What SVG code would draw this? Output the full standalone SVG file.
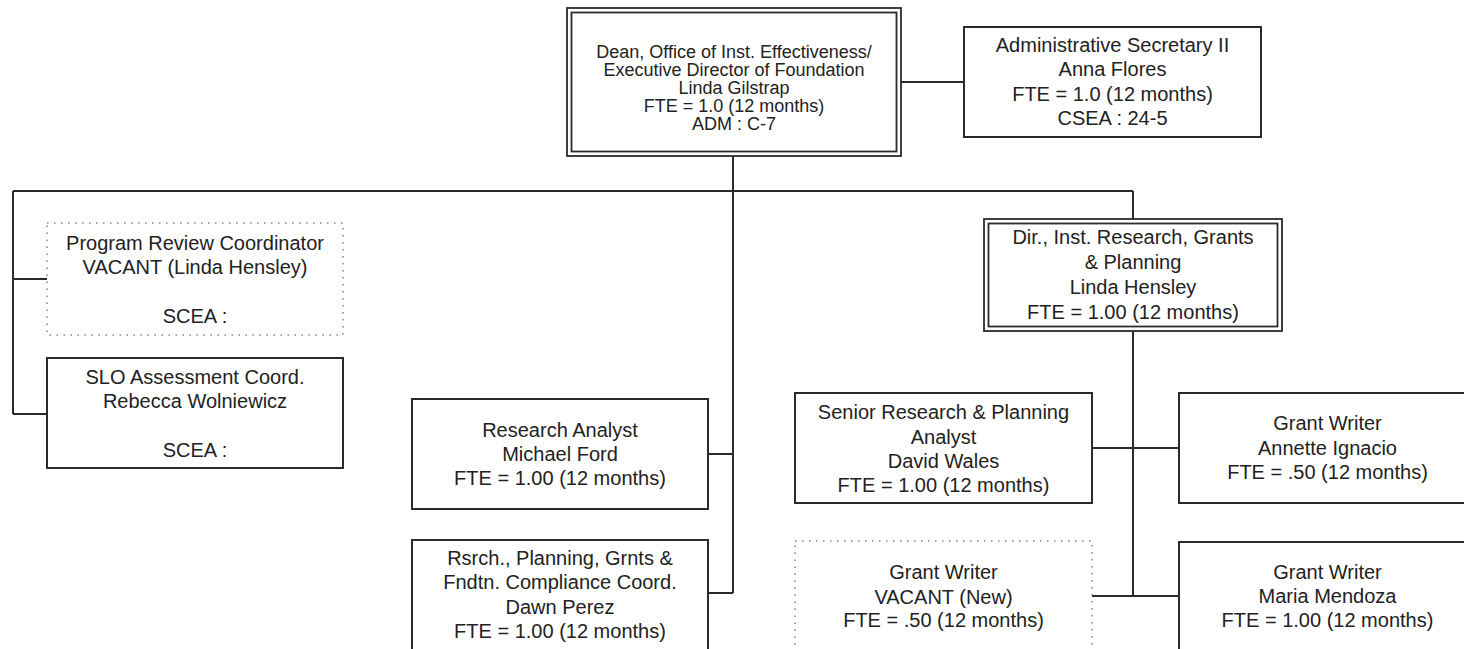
<svg xmlns="http://www.w3.org/2000/svg" width="1464" height="649" viewBox="0 0 1464 649">
<style>
.bg{fill:#ffffff}
.box{fill:none;stroke:#2b2b2b;stroke-width:2}
.dbl{fill:none;stroke:#2b2b2b;stroke-width:1.8}
.dot{fill:none;stroke:#8a8a8a;stroke-width:1.6;stroke-dasharray:1.5 5.5}
.ln{fill:none;stroke:#2b2b2b;stroke-width:2}
text{font-family:"Liberation Sans",Arial,sans-serif;font-size:20px;fill:#222;text-anchor:middle}
.sm{font-size:18px}
</style>
<rect class="bg" x="0" y="0" width="1464" height="649"/>
<g id="connectors">
<path class="ln" d="M901,82H964"/>
<path class="ln" d="M733,156V593"/>
<path class="ln" d="M13,191H1133"/>
<path class="ln" d="M13,191V414"/>
<path class="ln" d="M13,279H47"/>
<path class="ln" d="M13,414H47"/>
<path class="ln" d="M708,454H733"/>
<path class="ln" d="M708,593H733"/>
<path class="ln" d="M1133,191V219"/>
<path class="ln" d="M1133,331V596"/>
<path class="ln" d="M1092,448H1179"/>
<path class="ln" d="M1092,596H1179"/>
</g>
<g id="dean">
<rect class="dbl" x="567" y="8" width="334" height="148"/>
<rect class="dbl" x="571.5" y="12.5" width="325" height="139"/>
<text class="sm" x="734" y="58">Dean, Office of Inst. Effectiveness/</text>
<text class="sm" x="734" y="76">Executive Director of Foundation</text>
<text class="sm" x="734" y="94">Linda Gilstrap</text>
<text class="sm" x="734" y="112">FTE = 1.0 (12 months)</text>
<text class="sm" x="734" y="130">ADM : C-7</text>
</g>
<g id="admin">
<rect class="box" x="964" y="27" width="297" height="110"/>
<text x="1112.5" y="52">Administrative Secretary II</text>
<text x="1112.5" y="76">Anna Flores</text>
<text x="1112.5" y="101">FTE = 1.0 (12 months)</text>
<text x="1112.5" y="125">CSEA : 24-5</text>
</g>
<g id="program-review">
<rect class="dot" x="47" y="223" width="296" height="112"/>
<text x="195" y="250">Program Review Coordinator</text>
<text x="195" y="274">VACANT (Linda Hensley)</text>
<text x="195" y="323">SCEA :</text>
</g>
<g id="slo">
<rect class="box" x="47" y="358" width="296" height="110"/>
<text x="195" y="384">SLO Assessment Coord.</text>
<text x="195" y="408">Rebecca Wolniewicz</text>
<text x="195" y="457">SCEA :</text>
</g>
<g id="research-analyst">
<rect class="box" x="412" y="399" width="296" height="110"/>
<text x="560" y="437">Research Analyst</text>
<text x="560" y="461">Michael Ford</text>
<text x="560" y="485">FTE = 1.00 (12 months)</text>
</g>
<g id="compliance">
<rect class="box" x="412" y="540" width="296" height="110"/>
<text x="560" y="565">Rsrch., Planning, Grnts &amp;</text>
<text x="560" y="589">Fndtn. Compliance Coord.</text>
<text x="560" y="614">Dawn Perez</text>
<text x="560" y="638">FTE = 1.00 (12 months)</text>
</g>
<g id="director">
<rect class="dbl" x="984" y="219" width="298" height="112"/>
<rect class="dbl" x="988.5" y="223.5" width="289" height="103"/>
<text x="1133" y="244">Dir., Inst. Research, Grants</text>
<text x="1133" y="269">&amp; Planning</text>
<text x="1133" y="294">Linda Hensley</text>
<text x="1133" y="319">FTE = 1.00 (12 months)</text>
</g>
<g id="senior-analyst">
<rect class="box" x="795" y="393" width="297" height="110"/>
<text x="943.5" y="419">Senior Research &amp; Planning</text>
<text x="943.5" y="444">Analyst</text>
<text x="943.5" y="468">David Wales</text>
<text x="943.5" y="492">FTE = 1.00 (12 months)</text>
</g>
<g id="grant-annette">
<rect class="box" x="1179" y="393" width="297" height="110"/>
<text x="1327.5" y="430">Grant Writer</text>
<text x="1327.5" y="455">Annette Ignacio</text>
<text x="1327.5" y="479">FTE = .50 (12 months)</text>
</g>
<g id="grant-vacant">
<rect class="dot" x="795" y="541" width="297" height="112"/>
<text x="943.5" y="579">Grant Writer</text>
<text x="943.5" y="604">VACANT (New)</text>
<text x="943.5" y="627">FTE = .50 (12 months)</text>
</g>
<g id="grant-maria">
<rect class="box" x="1179" y="542" width="297" height="110"/>
<text x="1327.5" y="579">Grant Writer</text>
<text x="1327.5" y="603">Maria Mendoza</text>
<text x="1327.5" y="627">FTE = 1.00 (12 months)</text>
</g>
</svg>
